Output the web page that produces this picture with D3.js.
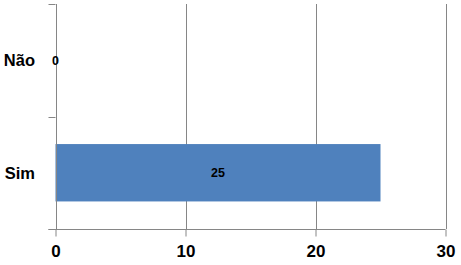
<!DOCTYPE html>
<html>
<head>
<meta charset="utf-8">
<script src="https://cdn.jsdelivr.net/npm/d3@7"></script>
<style>
  body { margin: 0; background: #fff; }
  text { font-family: "Liberation Sans", Arial, sans-serif; font-weight: bold; fill: #000; }
</style>
</head>
<body>
<div id="chart"></div>
<script>
var categories = ["Não", "Sim"];
var values = [0, 25];
var xTicks = [0, 10, 20, 30];

var width = 461, height = 265;
var margin = {top: 4, right: 15.5, bottom: 36, left: 55.5};
var gridColor = "#868686";

var svg = d3.select("#chart").append("svg")
    .attr("width", width)
    .attr("height", height);

var x = d3.scaleLinear()
  .domain([0, 30])
  .range([margin.left, width - margin.right]);

var y = d3.scaleBand()
  .domain(categories)
  .range([margin.top, height - margin.bottom])
  .paddingInner(0.49)
  .paddingOuter(0.245);

var plotBottom = height - margin.bottom;

// vertical gridlines
svg.append("g").selectAll("line")
  .data(xTicks.slice(1))
  .join("line")
    .attr("x1", d => Math.round(x(d)) + 0.5)
    .attr("x2", d => Math.round(x(d)) + 0.5)
    .attr("y1", margin.top)
    .attr("y2", plotBottom)
    .attr("stroke", gridColor)
    .attr("stroke-width", 1);

// bars
svg.append("g").selectAll("rect")
  .data(categories)
  .join("rect")
    .attr("x", x(0))
    .attr("y", d => y(d))
    .attr("width", (d, i) => x(values[i]) - x(0))
    .attr("height", y.bandwidth())
    .attr("fill", "#4f81bd");

// x axis
var xAxis = svg.append("g")
  .attr("transform", "translate(0," + (Math.round(plotBottom) + 0.5) + ")")
  .call(d3.axisBottom(x).tickValues(xTicks).tickSize(7).tickSizeOuter(0));
xAxis.select(".domain").remove();
xAxis.append("line")
  .attr("x1", x(0) - 7).attr("x2", x(30))
  .attr("stroke", gridColor);
xAxis.selectAll(".tick line").attr("stroke", gridColor);
xAxis.selectAll(".tick text")
  .attr("dy", null)
  .attr("y", 27)
  .style("font-size", "17px");
xAxis.attr("font-family", null).attr("font-size", null);

// y axis line + boundary ticks
var yAxis = svg.append("g");
yAxis.append("line")
  .attr("x1", Math.round(x(0)) + 0.5).attr("x2", Math.round(x(0)) + 0.5)
  .attr("y1", margin.top).attr("y2", plotBottom)
  .attr("stroke", gridColor);
var bounds = [y.range()[0], y.range()[0] + y.step(), y.range()[1]];
yAxis.selectAll(".bt")
  .data(bounds)
  .join("line")
    .attr("x1", x(0) - 7).attr("x2", x(0))
    .attr("y1", d => Math.round(d) + 0.5)
    .attr("y2", d => Math.round(d) + 0.5)
    .attr("stroke", gridColor);

// category labels
svg.append("g").selectAll("text")
  .data(categories)
  .join("text")
    .attr("x", 35)
    .attr("y", d => y(d) + y.bandwidth() / 2)
    .attr("dy", "0.36em")
    .attr("text-anchor", "end")
    .style("font-size", "16.5px")
    .text(d => d);

// data labels
svg.append("g").selectAll("text")
  .data(categories)
  .join("text")
    .attr("x", (d, i) => (x(0) + x(values[i])) / 2)
    .attr("y", d => y(d) + y.bandwidth() / 2)
    .attr("dy", "0.36em")
    .attr("text-anchor", "middle")
    .style("font-size", "12.5px")
    .text((d, i) => values[i]);
</script>
</body>
</html>
